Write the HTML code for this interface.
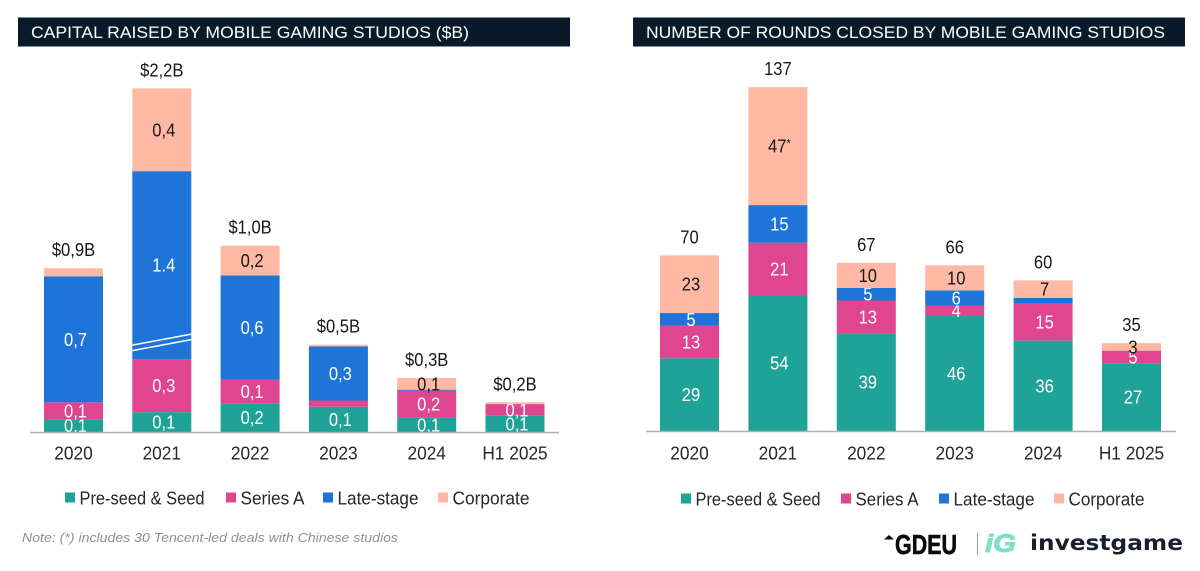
<!DOCTYPE html>
<html lang="en">
<head>
<meta charset="utf-8">
<title>Mobile gaming studios funding</title>
<style>
  html,body{margin:0;padding:0;background:#fff;width:1200px;height:571px;overflow:hidden}
  svg{display:block;font-family:"Liberation Sans",Arial,sans-serif}
</style>
</head>
<body>
<svg id="stage" xmlns="http://www.w3.org/2000/svg" width="1200" height="571" viewBox="0 0 1200 571">
  <rect x="18" y="17.5" width="552" height="29" fill="#0a1a2b"/>
  <text x="31" y="38" font-size="17" fill="#fff" textLength="438" lengthAdjust="spacingAndGlyphs">CAPITAL RAISED BY MOBILE GAMING STUDIOS ($B)</text>
  <rect x="633" y="17.5" width="552" height="29" fill="#0a1a2b"/>
  <text x="646" y="38" font-size="17" fill="#fff" textLength="519" lengthAdjust="spacingAndGlyphs">NUMBER OF ROUNDS CLOSED BY MOBILE GAMING STUDIOS</text>
  <g id="left-chart"></g>
  <g id="right-chart"></g>
  <text x="22" y="542" font-size="13" font-style="italic" fill="#8f8f8f" textLength="376" lengthAdjust="spacingAndGlyphs">Note: (*) includes 30 Tencent-led deals with Chinese studios</text>
  <g>
    <path d="M884 539.5 L889 535 L894 539.5 Z" fill="#0b0b0b"/>
    <text x="895" y="554" font-size="28" font-weight="700" fill="#0b0b0b" stroke="#0b0b0b" stroke-width="0.6" textLength="62" lengthAdjust="spacingAndGlyphs">GDEU</text>
  </g>
  <rect x="977" y="533" width="1" height="22" fill="#9aa0a4"/>
  <text x="985" y="552" font-size="25" font-weight="700" font-style="italic" fill="#7fdfca" stroke="#7fdfca" stroke-width="1" textLength="31" lengthAdjust="spacingAndGlyphs">iG</text>
  <text x="1030" y="550" font-family="'DejaVu Sans',sans-serif" font-size="21" font-weight="700" fill="#17212b" textLength="153" lengthAdjust="spacingAndGlyphs">investgame</text>
</svg>
<script>
// Shared categories and series
const categories = ["2020", "2021", "2022", "2023", "2024", "H1 2025"];
const seriesNames = ["Pre-seed & Seed", "Series A", "Late-stage", "Corporate"];

// Capital raised ($B)
const capitalSeed = [0.07, 0.11, 0.16, 0.14, 0.08, 0.09];
const capitalSeriesA = [0.095, 0.295, 0.13, 0.035, 0.15, 0.065];
const capitalLate = [0.70, 1.40, 0.58, 0.30, 0.005, 0];
const capitalCorporate = [0.045, 0.46, 0.165, 0.01, 0.065, 0.01];
// Amount hidden by the axis break on a bar
const capitalBreakCut = [0, 0.356, 0, 0, 0, 0];
// Printed labels
const capitalSeedLabels = ["0,1", "0,1", "0,2", "0,1", "0,1", "0,1"];
const capitalSeriesALabels = ["0,1", "0,3", "0,1", "", "0,2", "0,1"];
const capitalLateLabels = ["0,7", "1.4", "0,6", "0,3", "", ""];
const capitalCorporateLabels = ["", "0,4", "0,2", "", "0,1", ""];
const capitalTotalLabels = ["$0,9B", "$2,2B", "$1,0B", "$0,5B", "$0,3B", "$0,2B"];

// Rounds closed (count)
const roundsSeed = [29, 54, 39, 46, 36, 27];
const roundsSeriesA = [13, 21, 13, 4, 15, 5];
const roundsLate = [5, 15, 5, 6, 2, 0];
const roundsCorporate = [23, 47, 10, 10, 7, 3];
const roundsSeedLabels = ["29", "54", "39", "46", "36", "27"];
const roundsSeriesALabels = ["13", "21", "13", "4", "15", "5"];
const roundsLateLabels = ["5", "15", "5", "6", "", ""];
const roundsCorporateLabels = ["23", "47*", "10", "10", "7", "3"];
const roundsTotalLabels = ["70", "137", "67", "66", "60", "35"];

const SERIES_COLORS = ["#1fa298", "#e0458f", "#1f74d8", "#ffb8a3"];
const LABEL_COLORS = ["#ffffff", "#ffffff", "#ffffff", "#14181c"];
const SVG_NS = "http://www.w3.org/2000/svg";

function mk(parent, tag, attrs, txt) {
  const el = document.createElementNS(SVG_NS, tag);
  for (const k in attrs) el.setAttribute(k, attrs[k]);
  if (txt !== undefined) el.textContent = txt;
  parent.appendChild(el);
  return el;
}

// Narrow a text run so the glyphs read tall and condensed like the reference face
function condense(el, k) {
  el.setAttribute("textLength", el.getComputedTextLength() * k);
  el.setAttribute("lengthAdjust", "spacingAndGlyphs");
}

function kebab(s) {
  return s.toLowerCase().replace(/[^a-z0-9]+/g, "-").replace(/^-|-$/g, "");
}

function drawChart(root, cfg) {
  const xBand = i => cfg.barStart + i * cfg.step;
  const yVal = v => cfg.baseline - v * cfg.pxPerUnit;

  categories.forEach((cat, i) => {
    let cum = 0;
    const center = xBand(i) + cfg.barWidth / 2;
    cfg.series.forEach((vals, s) => {
      const shown = vals[i] - (s === 2 && cfg.cut ? cfg.cut[i] : 0);
      if (shown <= 0) return;
      const y0 = yVal(cum);
      const y1 = yVal(cum + shown);
      const seg = mk(root, "rect", {x: xBand(i), y: y1, width: cfg.barWidth, height: y0 - y1, fill: SERIES_COLORS[s]});
      
      
      const lab = cfg.labels[s][i];
      if (s === 2 && cfg.cut && cfg.cut[i] > 0) {
        [0, 5.5].forEach(off => {
          const brk = mk(root, "line", {
            x1: xBand(i), x2: xBand(i) + cfg.barWidth,
            y1: y0 - 8.5 - off, y2: y0 - 19.5 - off,
            stroke: "#fff", "stroke-width": 1.6
          });
          
          
        });
      }
      if (lab) {
        const hasStar = lab.endsWith("*");
        const t = mk(root, "text", {
          x: center + cfg.labelShift, y: (y0 + y1) / 2 + 6.5,
          "font-size": 18, "text-anchor": "middle", fill: LABEL_COLORS[s]
        }, hasStar ? lab.slice(0, -1) : lab);
        if (hasStar) {
          mk(t, "tspan", {"font-size": 12, dy: -5}, "*");
        }
        
        
        condense(t, 0.92);
      }
      cum += shown;
    });
    const total = mk(root, "text", {
      x: center, y: yVal(cum) - 12, "font-size": 18, "text-anchor": "middle", fill: "#14181c"
    }, cfg.totals[i]);
    
    
    condense(total, 0.92);

    const tick = mk(root, "text", {
      x: center, y: cfg.tickY, "font-size": 18, "text-anchor": "middle", fill: "#24282c"
    }, cat);
    
    
    condense(tick, 0.96);
  });

  const axis = mk(root, "line", {
    x1: cfg.axisFrom, x2: cfg.axisTo, y1: cfg.baseline + 0.5, y2: cfg.baseline + 0.5,
    stroke: "#aeb0b2", "stroke-width": 1.6
  });
  
  

  seriesNames.forEach((name, s) => {
    const sw = mk(root, "rect", {
      x: cfg.legendX[s], y: cfg.legendY - 12, width: 10, height: 10, fill: SERIES_COLORS[s]
    });
    
    
    const t = mk(root, "text", {
      x: cfg.legendX[s] + 14.5, y: cfg.legendY, "font-size": 18, fill: "#24282c",
      textLength: cfg.legendW[s], lengthAdjust: "spacingAndGlyphs"
    }, name);
    
    
  });
}

drawChart(document.getElementById("left-chart"), {
  barStart: 44, step: 88.3, barWidth: 59, baseline: 432, pxPerUnit: 180,
  axisFrom: 30, axisTo: 559, tickY: 459.5, labelShift: 2,
  series: [capitalSeed, capitalSeriesA, capitalLate, capitalCorporate],
  cut: capitalBreakCut,
  labels: [capitalSeedLabels, capitalSeriesALabels, capitalLateLabels, capitalCorporateLabels],
  totals: capitalTotalLabels,
  legendX: [65, 226, 323, 438], legendW: [125, 64, 81, 77], legendY: 504.5
});

drawChart(document.getElementById("right-chart"), {
  barStart: 660, step: 88.4, barWidth: 59, baseline: 431, pxPerUnit: 2.51,
  axisFrom: 646, axisTo: 1176, tickY: 459.5, labelShift: 1.5,
  series: [roundsSeed, roundsSeriesA, roundsLate, roundsCorporate],
  cut: null,
  labels: [roundsSeedLabels, roundsSeriesALabels, roundsLateLabels, roundsCorporateLabels],
  totals: roundsTotalLabels,
  legendX: [681, 841, 939, 1054], legendW: [125, 63, 81, 76], legendY: 505.5
});
</script>
</body>
</html>
